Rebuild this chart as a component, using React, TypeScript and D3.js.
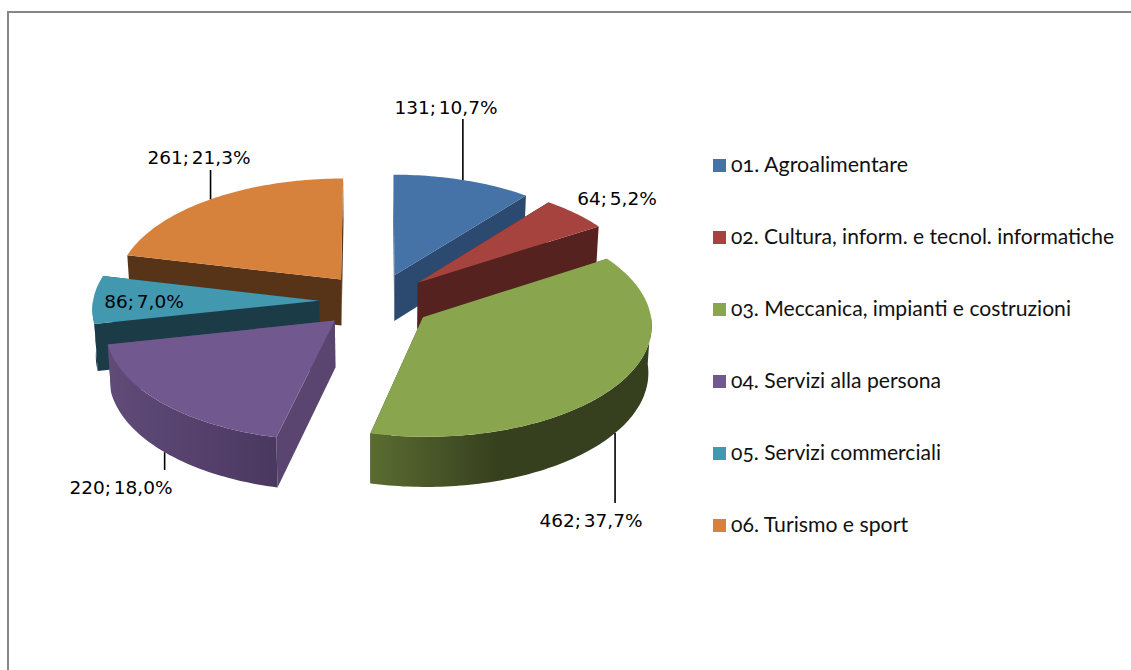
import React, { useMemo } from "react";
import * as d3 from "d3";

const categories = [
  "01. Agroalimentare",
  "02. Cultura, inform. e tecnol. informatiche",
  "03. Meccanica, impianti e costruzioni",
  "04. Servizi alla persona",
  "05. Servizi commerciali",
  "06. Turismo e sport",
];
const counts = [131, 64, 462, 220, 86, 261];
const shares = ["10,7%", "5,2%", "37,7%", "18,0%", "7,0%", "21,3%"];

const topColors = ["#4572a7", "#a6433f", "#89a54e", "#71588f", "#4198af", "#d7823c"];
const faceColors = ["#2c4a70", "#552220", "#394520", "#5a4570", "#1b3b47", "#573318"];
const wallStart = ["#2c4a70", "#552220", "#5b6c31", "#604b79", "#2f6f81", "#573318"];
const wallEnd = ["#2c4a70", "#552220", "#36401e", "#4b3860", "#1b3b47", "#573318"];

// label centre x, baseline y, end of leader line (null = no leader)
const labelSpots: [number, number, number | null][] = [
  [446, 114, 119],
  [617, 205, null],
  [591, 527, 503],
  [121, 494, 470],
  [144, 308, null],
  [199, 164, 170],
];
// the legend font is narrower than anything installed, so fit each line
const legendWidths = [177, 383, 340, 210, 210, 177];

const WIDTH = 1131;
const HEIGHT = 670;
const LABEL_FONT = "'DejaVu Sans', sans-serif";
const LEGEND_FONT = "Lato, 'Noto Sans', sans-serif";

// perspective of the tilted pie
const CX = 376;
const CY = 301;
const RX = 226;
const RY = 110;
const PERSP = 0.063;
const EXPLODE = 0.252;
const THICK = 46.5;
const BOTTOM_SHRINK = 0.988;

const project = (x: number, z: number, bottom = false): [number, number] => {
  const w = 1 - PERSP * z;
  let sx = (RX * x) / w;
  let sy = (RY * z) / w;
  if (bottom) {
    sx *= BOTTOM_SHRINK;
    sy += THICK / w;
  }
  return [CX + sx, CY + sy];
};

const sweep = (a0: number, a1: number) => {
  const n = Math.max(2, Math.ceil((a1 - a0) / 0.02));
  return d3.range(n + 1).map((i) => a0 + ((a1 - a0) * i) / n);
};

const App = () => {
  const slices = useMemo(() => {
    const pie = d3.pie<number>().sort(null).startAngle(0).endAngle(2 * Math.PI);
    return pie(counts).map((d) => {
      const mid = (d.startAngle + d.endAngle) / 2;
      const ox = Math.sin(mid) * EXPLODE;
      const oz = -Math.cos(mid) * EXPLODE;
      const rim = (a: number, bottom = false) =>
        project(ox + Math.sin(a), oz - Math.cos(a), bottom);
      return { ...d, mid, ox, oz, rim };
    });
  }, []);

  const order = d3.range(slices.length).sort((a, b) => slices[a].oz - slices[b].oz);
  const line = d3.line();

  return (
    <svg
      width={WIDTH}
      height={HEIGHT}
      style={{ position: "absolute", left: 0, top: 0, background: "#fff" }}
    >
      <defs>
        {slices.map((s, i) => {
          const a0 = Math.max(s.startAngle, Math.PI / 2);
          const a1 = Math.min(s.endAngle, (3 * Math.PI) / 2);
          if (a1 <= a0) return null;
          const xs = [s.rim(a0)[0], s.rim(a1)[0]];
          return (
            <linearGradient
              key={i}
              id={`wall${i}`}
              gradientUnits="userSpaceOnUse"
              x1={d3.min(xs)}
              x2={d3.max(xs)}
              y1={0}
              y2={0}
            >
              <stop offset={0} stopColor={wallStart[i]} />
              {/* green's wall darkens quickly, then stays flat to the right */}
              {i === 2 && <stop offset={0.45} stopColor={wallEnd[i]} />}
              <stop offset={1} stopColor={wallEnd[i]} />
            </linearGradient>
          );
        })}
      </defs>

      <path d="M8,670V12H1131" fill="none" stroke="#868686" strokeWidth={2} />

      {order.map((i) => {
        const s = slices[i];
        const apex = project(s.ox, s.oz);
        const apexLow = project(s.ox, s.oz, true);
        const top = [apex, ...sweep(s.startAngle, s.endAngle).map((a) => s.rim(a))];
        const face = (a: number) => [apex, s.rim(a), s.rim(a, true), apexLow] as [number, number][];
        const a0 = Math.max(s.startAngle, Math.PI / 2);
        const a1 = Math.min(s.endAngle, (3 * Math.PI) / 2);
        const arc = a1 > a0 ? sweep(a0, a1) : [];
        const wall = [
          ...arc.map((a) => s.rim(a)),
          ...arc.slice().reverse().map((a) => s.rim(a, true)),
        ];
        return (
          <g key={i}>
            <path d={line(face(s.startAngle))! + "Z"} fill={faceColors[i]} />
            <path d={line(face(s.endAngle))! + "Z"} fill={faceColors[i]} />
            {wall.length > 0 && <path d={line(wall)! + "Z"} fill={`url(#wall${i})`} />}
            <path d={line(top)! + "Z"} fill={topColors[i]} />
          </g>
        );
      })}

      {slices.map((s, i) => {
        const [lx, ly, leadEnd] = labelSpots[i];
        const front = Math.cos(s.mid) < 0;
        const from = s.rim(s.mid, front);
        return (
          <g key={i}>
            {leadEnd !== null && (
              <line x1={from[0]} x2={from[0]} y1={from[1]} y2={leadEnd} stroke="#000" strokeWidth={1.6} />
            )}
            <text
              x={lx}
              y={ly}
              textAnchor="middle"
              fontFamily={LABEL_FONT}
              fontSize={18.5}
              wordSpacing={-3}
              fill="#000"
            >
              {`${counts[i]}; ${shares[i]}`}
            </text>
          </g>
        );
      })}

      {categories.map((c, i) => (
        <g key={c} transform={`translate(713,${159 + i * 72})`}>
          <rect width={13} height={13} fill={topColors[i]} />
          <text
            x={18}
            y={13}
            fontFamily={LEGEND_FONT}
            fontSize={22}
            fill="#111"
            textLength={legendWidths[i]}
            lengthAdjust="spacingAndGlyphs"
            style={{ fontVariantNumeric: "oldstyle-nums" }}
          >
            {c}
          </text>
        </g>
      ))}
    </svg>
  );
};

export default App;
